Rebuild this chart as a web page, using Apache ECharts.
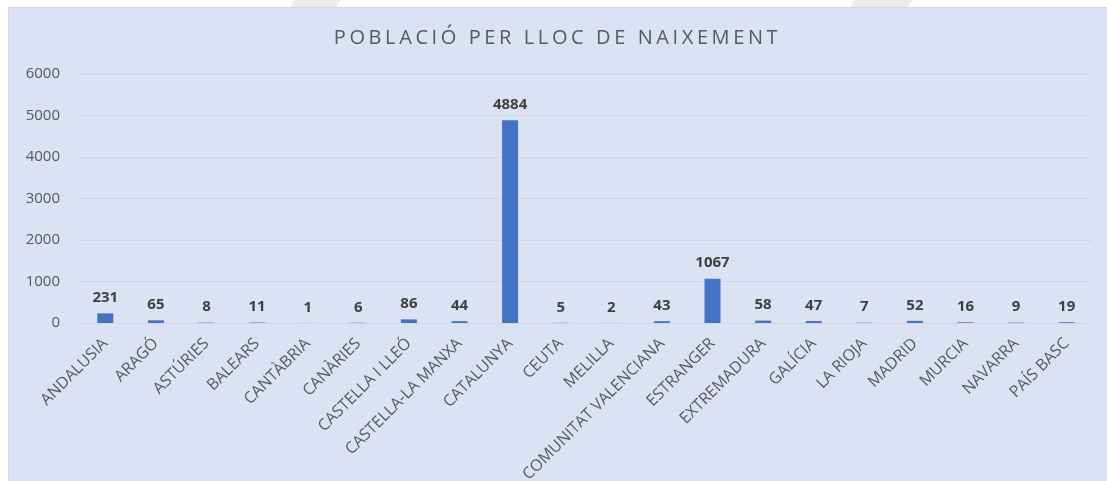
<!DOCTYPE html>
<html>
<head>
<meta charset="utf-8">
<script src="https://cdn.jsdelivr.net/npm/echarts@6/dist/echarts.min.js"></script>
<style>
  html, body { margin: 0; padding: 0; background: #fff; }
  #wrap { position: relative; width: 1107px; height: 481px; overflow: hidden;
          background: linear-gradient(120deg, #fff 0, #fff 255px, #ececec 255px, #ececec 295px, #fff 295px, #fff 740px, #ececec 740px, #ececec 790px, #fff 790px); }
  #chart { position: absolute; left: 8px; top: 7px; width: 1099px; height: 474px;
           border-left: 1px solid #d9d9d9; border-top: 1px solid #d9d9d9; box-sizing: border-box; }
  /* titol amb espaiat de lletres, com a l'original */
  #titol { position: absolute; left: 8px; right: 0; top: 23px; text-align: center;
           font-family: 'Open Sans', sans-serif; font-size: 20px; letter-spacing: 3.6px;
           color: #595959; pointer-events: none; }
</style>
</head>
<body>
<div id="wrap"><div id="chart"></div><div id="titol">POBLACIÓ PER LLOC DE NAIXEMENT</div></div>
<script>
// categories and values
const llocs = ['ANDALUSIA', 'ARAGÓ', 'ASTÚRIES', 'BALEARS', 'CANTÀBRIA', 'CANÀRIES',
  'CASTELLA I LLEÓ', 'CASTELLA-LA MANXA', 'CATALUNYA', 'CEUTA', 'MELILLA',
  'COMUNITAT VALENCIANA', 'ESTRANGER', 'EXTREMADURA', 'GALÍCIA', 'LA RIOJA',
  'MADRID', 'MURCIA', 'NAVARRA', 'PAÍS BASC']
const poblacio = [231, 65, 8, 11, 1, 6, 86, 44, 4884, 5, 2, 43, 1067, 58, 47, 7, 52, 16, 9, 19]
const yTicks = [0, 1000, 2000, 3000, 4000, 5000, 6000]

const chart = echarts.init(document.getElementById('chart'))
chart.setOption({
  backgroundColor: '#dae2f4',
  animation: false,
  grid: { left: 71, right: 15, top: 66, bottom: 158, outerBoundsMode: 'none', containLabel: false },
  xAxis: {
    type: 'category',
    data: llocs,
    axisTick: { show: false },
    axisLine: { lineStyle: { color: '#d2d6de' } },
    axisLabel: {
      interval: 0,
      rotate: 45,
      margin: 18,
      fontFamily: 'Open Sans',
      fontSize: 16,
      color: '#595959'
    }
  },
  yAxis: {
    type: 'value',
    min: yTicks[0],
    max: yTicks[yTicks.length - 1],
    interval: 1000,
    axisLine: { show: false },
    axisTick: { show: false },
    splitLine: { lineStyle: { color: '#d2d6de' } },
    axisLabel: {
      margin: 20,
      fontFamily: 'Open Sans',
      fontSize: 15,
      color: '#595959',
      formatter: v => String(v)
    }
  },
  series: [{
    type: 'bar',
    data: poblacio,
    barWidth: 16,
    itemStyle: { color: '#4472c4' },
    label: {
      show: true,
      position: 'top',
      distance: 8,
      fontFamily: 'Open Sans',
      fontSize: 15,
      fontWeight: 'bold',
      color: '#404040'
    }
  }]
})
</script>
</body>
</html>
